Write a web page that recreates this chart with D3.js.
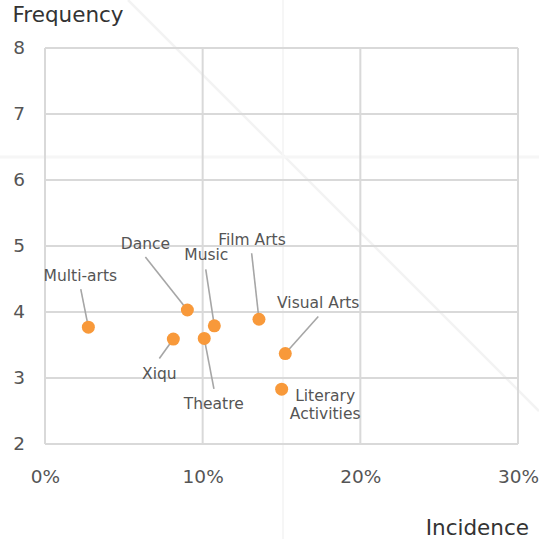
<!DOCTYPE html>
<html>
<head>
<meta charset="utf-8">
<script src="https://cdn.jsdelivr.net/npm/d3@7"></script>
<style>
  html, body { margin: 0; padding: 0; background: #fff; }
  svg { display: block; font-family: "DejaVu Sans", sans-serif; }
</style>
</head>
<body>
<svg id="chart" width="539" height="539"></svg>
<script>
// ---- data ----
const categories = ["Multi-arts", "Dance", "Xiqu", "Theatre", "Music", "Film Arts", "Visual Arts", "Literary Activities"];
const incidence  = [0.0275, 0.0903, 0.0814, 0.1010, 0.1074, 0.1357, 0.1524, 0.1501];
const frequency  = [3.77, 4.03, 3.59, 3.60, 3.79, 3.89, 3.37, 2.83];
const xTicks = [0, 0.1, 0.2, 0.3];
const yTicks = [2, 3, 4, 5, 6, 7, 8];
const xTitle = "Incidence";
const yTitle = "Frequency";

// ---- label layout (offsets from each point, pixels) ----
const labelLayout = [
  { dx: -8,  dy: -52,  lx: -7.6, ly: -38 },
  { dx: -42, dy: -67,  lx: -42,  ly: -53 },
  { dx: -14, dy: 34.5, lx: -14,  ly: 19.5 },
  { dx: 9.5, dy: 65,   lx: 9.7,  ly: 50.5 },
  { dx: -8,  dy: -71,  lx: -8.6, ly: -56.5 },
  { dx: -7,  dy: -79.5,lx: -7.3, ly: -66 },
  { dx: 33,  dy: -51,  lx: 33,   ly: -37 },
  { dx: 43.5,dy: 6.5,  lx: null, ly: null }
];

const svg = d3.select("#chart");

// very faint background artefacts present in the reference screenshot
const bg = svg.append("g");
bg.append("line").attr("x1", 128).attr("y1", 0).attr("x2", 539).attr("y2", 411)
  .attr("stroke", "#f3f3f3").attr("stroke-width", 2.5);
bg.append("line").attr("x1", 0).attr("y1", 157).attr("x2", 539).attr("y2", 157)
  .attr("stroke", "#f6f6f6").attr("stroke-width", 3);
bg.append("line").attr("x1", 283).attr("y1", 0).attr("x2", 283).attr("y2", 539)
  .attr("stroke", "#f6f6f6").attr("stroke-width", 2);

const x = d3.scaleLinear().domain([0, 0.3]).range([45, 518]);
const y = d3.scaleLinear().domain([2, 8]).range([444, 48]);

// grid
const grid = svg.append("g");
grid.selectAll("line.v").data(xTicks).join("line")
  .attr("x1", d => x(d)).attr("x2", d => x(d))
  .attr("y1", y(8)).attr("y2", y(2))
  .attr("stroke", "#d9d9d9").attr("stroke-width", 2);
grid.selectAll("line.h").data(yTicks).join("line")
  .attr("x1", x(0)).attr("x2", x(0.3))
  .attr("y1", d => y(d)).attr("y2", d => y(d))
  .attr("stroke", "#d9d9d9").attr("stroke-width", 2);

// axes via d3 axis generators (labels only)
const xAxis = svg.append("g").attr("transform", `translate(0,${y(2)})`)
  .call(d3.axisBottom(x).tickValues(xTicks).tickFormat(d3.format(".0%")).tickSize(0).tickPadding(26));
xAxis.select(".domain").remove();
xAxis.selectAll("text").attr("font-size", 18.5).attr("fill", "#555")
  .attr("font-family", "DejaVu Sans");

const yAxis = svg.append("g").attr("transform", `translate(${x(0)},0)`)
  .call(d3.axisLeft(y).tickValues(yTicks).tickFormat(d3.format("d")).tickSize(0).tickPadding(20));
yAxis.select(".domain").remove();
yAxis.selectAll("text").attr("font-size", 18.5).attr("fill", "#555")
  .attr("font-family", "DejaVu Sans");

// titles
svg.append("text").attr("x", 12.5).attr("y", 21.5).attr("font-size", 21.5)
  .attr("fill", "#333").text(yTitle);
svg.append("text").attr("x", 529).attr("y", 535).attr("text-anchor", "end")
  .attr("font-size", 21.5).attr("fill", "#333").text(xTitle);

const pts = categories.map((c, i) => ({ name: c, px: x(incidence[i]), py: y(frequency[i]), L: labelLayout[i] }));

// leader lines
svg.append("g").selectAll("line").data(pts.filter(p => p.L.lx !== null)).join("line")
  .attr("x1", p => p.px + p.L.lx).attr("y1", p => p.py + p.L.ly)
  .attr("x2", p => p.px).attr("y2", p => p.py)
  .attr("stroke", "#a6a6a6").attr("stroke-width", 1.6);

// points
svg.append("g").selectAll("circle").data(pts).join("circle")
  .attr("cx", p => p.px).attr("cy", p => p.py).attr("r", 6.5)
  .attr("fill", "#f8993a");

// labels
const lab = svg.append("g").selectAll("text").data(pts).join("text")
  .attr("text-anchor", "middle")
  .attr("font-size", 15.5).attr("fill", "#555");
lab.each(function(p) {
  const t = d3.select(this);
  const words = p.name === "Literary Activities" ? ["Literary", "Activities"] : [p.name];
  words.forEach((w, k) => {
    t.append("tspan").attr("x", p.px + p.L.dx)
      .attr("y", p.py + p.L.dy + 5.6 + k * 18).text(w);
  });
});
</script>
</body>
</html>
